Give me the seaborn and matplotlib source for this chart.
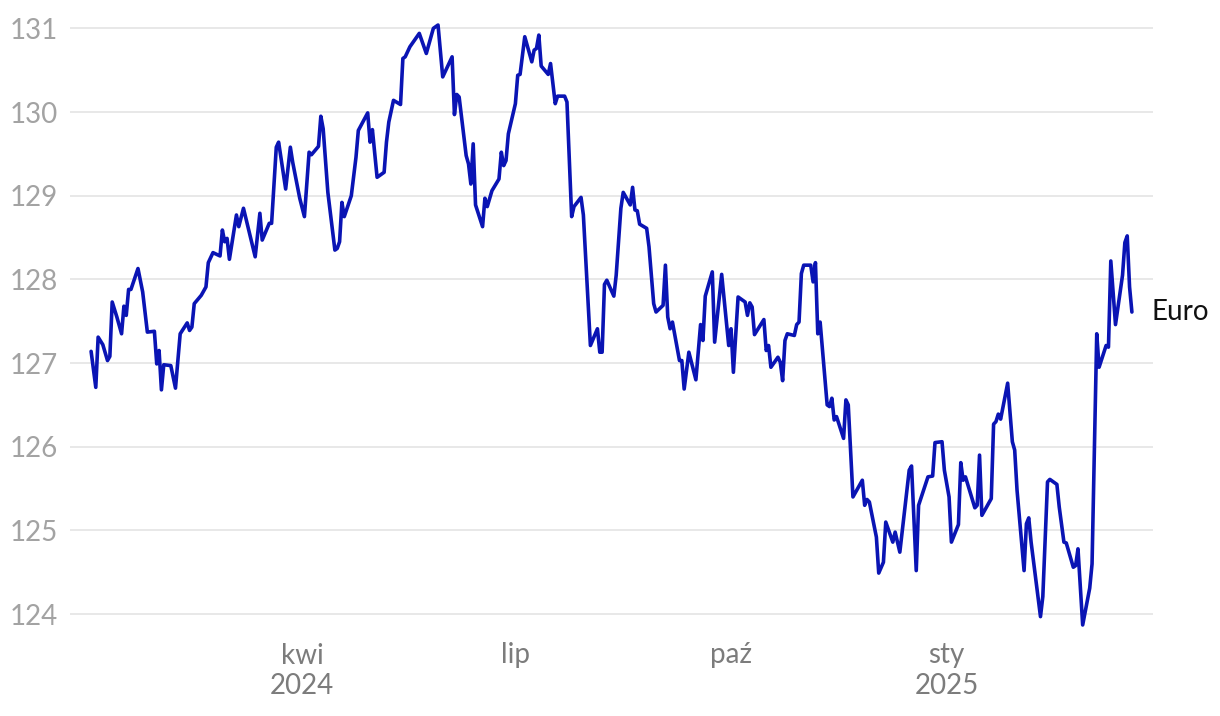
import seaborn as sns
import matplotlib.pyplot as plt
import pandas as pd

# kurs / indeks euro
dates = [
    "2024-01-02", "2024-01-04", "2024-01-05", "2024-01-07", "2024-01-09", "2024-01-10",
    "2024-01-11", "2024-01-13", "2024-01-15", "2024-01-16", "2024-01-17", "2024-01-18",
    "2024-01-19", "2024-01-22", "2024-01-24", "2024-01-26", "2024-01-29", "2024-01-30",
    "2024-01-31", "2024-02-01", "2024-02-02", "2024-02-05", "2024-02-07", "2024-02-09",
    "2024-02-12", "2024-02-13", "2024-02-14", "2024-02-15", "2024-02-18", "2024-02-20",
    "2024-02-21", "2024-02-23", "2024-02-26", "2024-02-27", "2024-02-28", "2024-02-29",
    "2024-03-01", "2024-03-04", "2024-03-05", "2024-03-07", "2024-03-12", "2024-03-14",
    "2024-03-15", "2024-03-18", "2024-03-19", "2024-03-21", "2024-03-22", "2024-03-25",
    "2024-03-27", "2024-03-28", "2024-03-31", "2024-04-02", "2024-04-04", "2024-04-05",
    "2024-04-08", "2024-04-09", "2024-04-10", "2024-04-12", "2024-04-15", "2024-04-16",
    "2024-04-17", "2024-04-18", "2024-04-19", "2024-04-22", "2024-04-24", "2024-04-25",
    "2024-04-29", "2024-04-30", "2024-05-01", "2024-05-03", "2024-05-06", "2024-05-07",
    "2024-05-08", "2024-05-10", "2024-05-13", "2024-05-14", "2024-05-15", "2024-05-17",
    "2024-05-21", "2024-05-24", "2024-05-27", "2024-05-29", "2024-05-31", "2024-06-04",
    "2024-06-05", "2024-06-06", "2024-06-07", "2024-06-10", "2024-06-11", "2024-06-12",
    "2024-06-13", "2024-06-14", "2024-06-17", "2024-06-18", "2024-06-19", "2024-06-21",
    "2024-06-24", "2024-06-25", "2024-06-26", "2024-06-27", "2024-06-28", "2024-07-01",
    "2024-07-02", "2024-07-03", "2024-07-05", "2024-07-08", "2024-07-09", "2024-07-10",
    "2024-07-11", "2024-07-12", "2024-07-15", "2024-07-16", "2024-07-18", "2024-07-19",
    "2024-07-22", "2024-07-23", "2024-07-25", "2024-07-26", "2024-07-29", "2024-07-30",
    "2024-08-02", "2024-08-05", "2024-08-06", "2024-08-07", "2024-08-08", "2024-08-09",
    "2024-08-12", "2024-08-13", "2024-08-15", "2024-08-16", "2024-08-19", "2024-08-20",
    "2024-08-21", "2024-08-22", "2024-08-23", "2024-08-26", "2024-08-27", "2024-08-29",
    "2024-08-30", "2024-09-02", "2024-09-03", "2024-09-04", "2024-09-05", "2024-09-06",
    "2024-09-09", "2024-09-10", "2024-09-11", "2024-09-13", "2024-09-16", "2024-09-18",
    "2024-09-19", "2024-09-20", "2024-09-23", "2024-09-24", "2024-09-27", "2024-09-30",
    "2024-10-01", "2024-10-02", "2024-10-04", "2024-10-07", "2024-10-08", "2024-10-09",
    "2024-10-10", "2024-10-11", "2024-10-15", "2024-10-16", "2024-10-17", "2024-10-18",
    "2024-10-21", "2024-10-22", "2024-10-23", "2024-10-24", "2024-10-25", "2024-10-28",
    "2024-10-29", "2024-10-30", "2024-10-31", "2024-11-01", "2024-11-04", "2024-11-05",
    "2024-11-06", "2024-11-07", "2024-11-08", "2024-11-11", "2024-11-12", "2024-11-13",
    "2024-11-14", "2024-11-15", "2024-11-18", "2024-11-19", "2024-11-20", "2024-11-22",
    "2024-11-26", "2024-11-27", "2024-11-28", "2024-11-29", "2024-12-02", "2024-12-03",
    "2024-12-05", "2024-12-06", "2024-12-09", "2024-12-10", "2024-12-12", "2024-12-16",
    "2024-12-17", "2024-12-19", "2024-12-20", "2024-12-24", "2024-12-26", "2024-12-27",
    "2024-12-30", "2024-12-31", "2025-01-02", "2025-01-03", "2025-01-06", "2025-01-07",
    "2025-01-08", "2025-01-09", "2025-01-13", "2025-01-14", "2025-01-15", "2025-01-16",
    "2025-01-20", "2025-01-21", "2025-01-22", "2025-01-23", "2025-01-24", "2025-01-27",
    "2025-01-29", "2025-01-30", "2025-01-31", "2025-02-03", "2025-02-04", "2025-02-05",
    "2025-02-06", "2025-02-10", "2025-02-11", "2025-02-13", "2025-02-14", "2025-02-17",
    "2025-02-18", "2025-02-20", "2025-02-21", "2025-02-24", "2025-02-25", "2025-02-26",
    "2025-02-28", "2025-03-03", "2025-03-04", "2025-03-06", "2025-03-07", "2025-03-10",
    "2025-03-11", "2025-03-12", "2025-03-14", "2025-03-17", "2025-03-18", "2025-03-19",
    "2025-03-20", "2025-03-21",
]

values = [
    127.14, 126.71, 127.31, 127.22, 127.03, 127.08,
    127.73, 127.55, 127.35, 127.68, 127.57, 127.88,
    127.88, 128.13, 127.85, 127.37, 127.38, 126.99,
    127.15, 126.68, 126.98, 126.97, 126.70, 127.35,
    127.48, 127.39, 127.43, 127.71, 127.81, 127.91,
    128.20, 128.32, 128.28, 128.59, 128.45, 128.49,
    128.24, 128.77, 128.63, 128.85, 128.27, 128.79,
    128.47, 128.67, 128.67, 129.58, 129.64, 129.08,
    129.58, 129.40, 128.97, 128.75, 129.52, 129.49,
    129.59, 129.95, 129.80, 129.04, 128.35, 128.37,
    128.45, 128.92, 128.75, 129.00, 129.46, 129.78,
    129.99, 129.64, 129.79, 129.22, 129.28, 129.64,
    129.88, 130.14, 130.09, 130.64, 130.66, 130.78,
    130.94, 130.70, 131.00, 131.04, 130.42, 130.66,
    129.97, 130.21, 130.18, 129.48, 129.38, 129.14,
    129.62, 128.89, 128.63, 128.97, 128.87, 129.06,
    129.20, 129.52, 129.36, 129.42, 129.74, 130.10,
    130.44, 130.45, 130.90, 130.60, 130.74, 130.76,
    130.92, 130.55, 130.45, 130.58, 130.10, 130.19,
    130.19, 130.12, 128.75, 128.87, 128.98, 128.77,
    127.21, 127.41, 127.13, 127.13, 127.94, 127.99,
    127.80, 128.05, 128.85, 129.04, 128.89, 129.10,
    128.83, 128.82, 128.66, 128.61, 128.39, 127.71,
    127.61, 127.69, 128.17, 127.55, 127.41, 127.49,
    127.03, 127.03, 126.69, 127.13, 126.80, 127.46,
    127.27, 127.80, 128.09, 127.25, 128.06, 127.21,
    127.41, 126.89, 127.79, 127.73, 127.57, 127.72,
    127.67, 127.34, 127.52, 127.15, 127.21, 126.95,
    127.07, 127.01, 126.79, 127.27, 127.35, 127.33,
    127.46, 127.49, 128.07, 128.17, 128.17, 127.97,
    128.20, 127.35, 127.49, 126.50, 126.48, 126.58,
    126.32, 126.36, 126.10, 126.56, 126.50, 125.40,
    125.60, 125.30, 125.37, 125.34, 124.92, 124.49,
    124.62, 125.10, 124.86, 124.98, 124.74, 125.72,
    125.77, 124.52, 125.30, 125.64, 125.65, 126.05,
    126.06, 125.72, 125.40, 124.86, 125.07, 125.81,
    125.60, 125.64, 125.27, 125.30, 125.90, 125.18,
    125.38, 126.27, 126.30, 126.39, 126.33, 126.76,
    126.06, 125.96, 125.48, 124.52, 125.08, 125.15,
    124.86, 123.97, 124.21, 125.58, 125.61, 125.55,
    125.28, 124.86, 124.85, 124.56, 124.58, 124.78,
    123.87, 124.31, 124.60, 127.35, 126.95, 127.21,
    127.19, 128.22, 127.46, 128.05, 128.44, 128.52,
    127.91, 127.61,
]

series_name = "Euro"
y_ticks = [124, 125, 126, 127, 128, 129, 130, 131]
x_ticks = ["2024-04-01", "2024-07-01", "2024-10-01", "2025-01-01"]
x_labels = ["kwi\n2024", "lip", "paź", "sty\n2025"]

df = pd.DataFrame({"date": pd.to_datetime(dates), "value": values})

sns.set_theme(style="white")
plt.rcParams["font.family"] = ["Lato", "DejaVu Sans"]

fig = plt.figure(figsize=(12.2, 7.16), dpi=100)
ax = fig.add_axes([70 / 1220, 86 / 716, 1083 / 1220, 610 / 716])

sns.lineplot(data=df, x="date", y="value", ax=ax, color="#0a14b4",
             linewidth=2.6, estimator=None)

ax.set_xlim(pd.Timestamp("2023-12-24"), pd.Timestamp("2025-03-30"))
ax.set_ylim(123.81, 131.10)

ax.set_yticks(y_ticks)
ax.set_yticklabels([str(t) for t in y_ticks])
ax.set_xticks(pd.to_datetime(x_ticks))
ax.set_xticklabels(x_labels, linespacing=1.2)

ax.grid(axis="y", color="#e2e2e2", linewidth=1.1)
ax.grid(axis="x", visible=False)
for s in ax.spines.values():
    s.set_visible(False)

ax.tick_params(axis="y", length=0, pad=9, labelsize=20, labelcolor="#a3a3a3")
ax.tick_params(axis="x", length=0, pad=9, labelsize=20, labelcolor="#7c7c7c")
ax.set_xlabel("")
ax.set_ylabel("")

ax.annotate(series_name, xy=(df["date"].iloc[-1], df["value"].iloc[-1]),
            xytext=(14, 0), textcoords="offset points", va="center", ha="left",
            fontsize=20, color="#111111", annotation_clip=False)

fig.savefig("out.png", dpi=100)
